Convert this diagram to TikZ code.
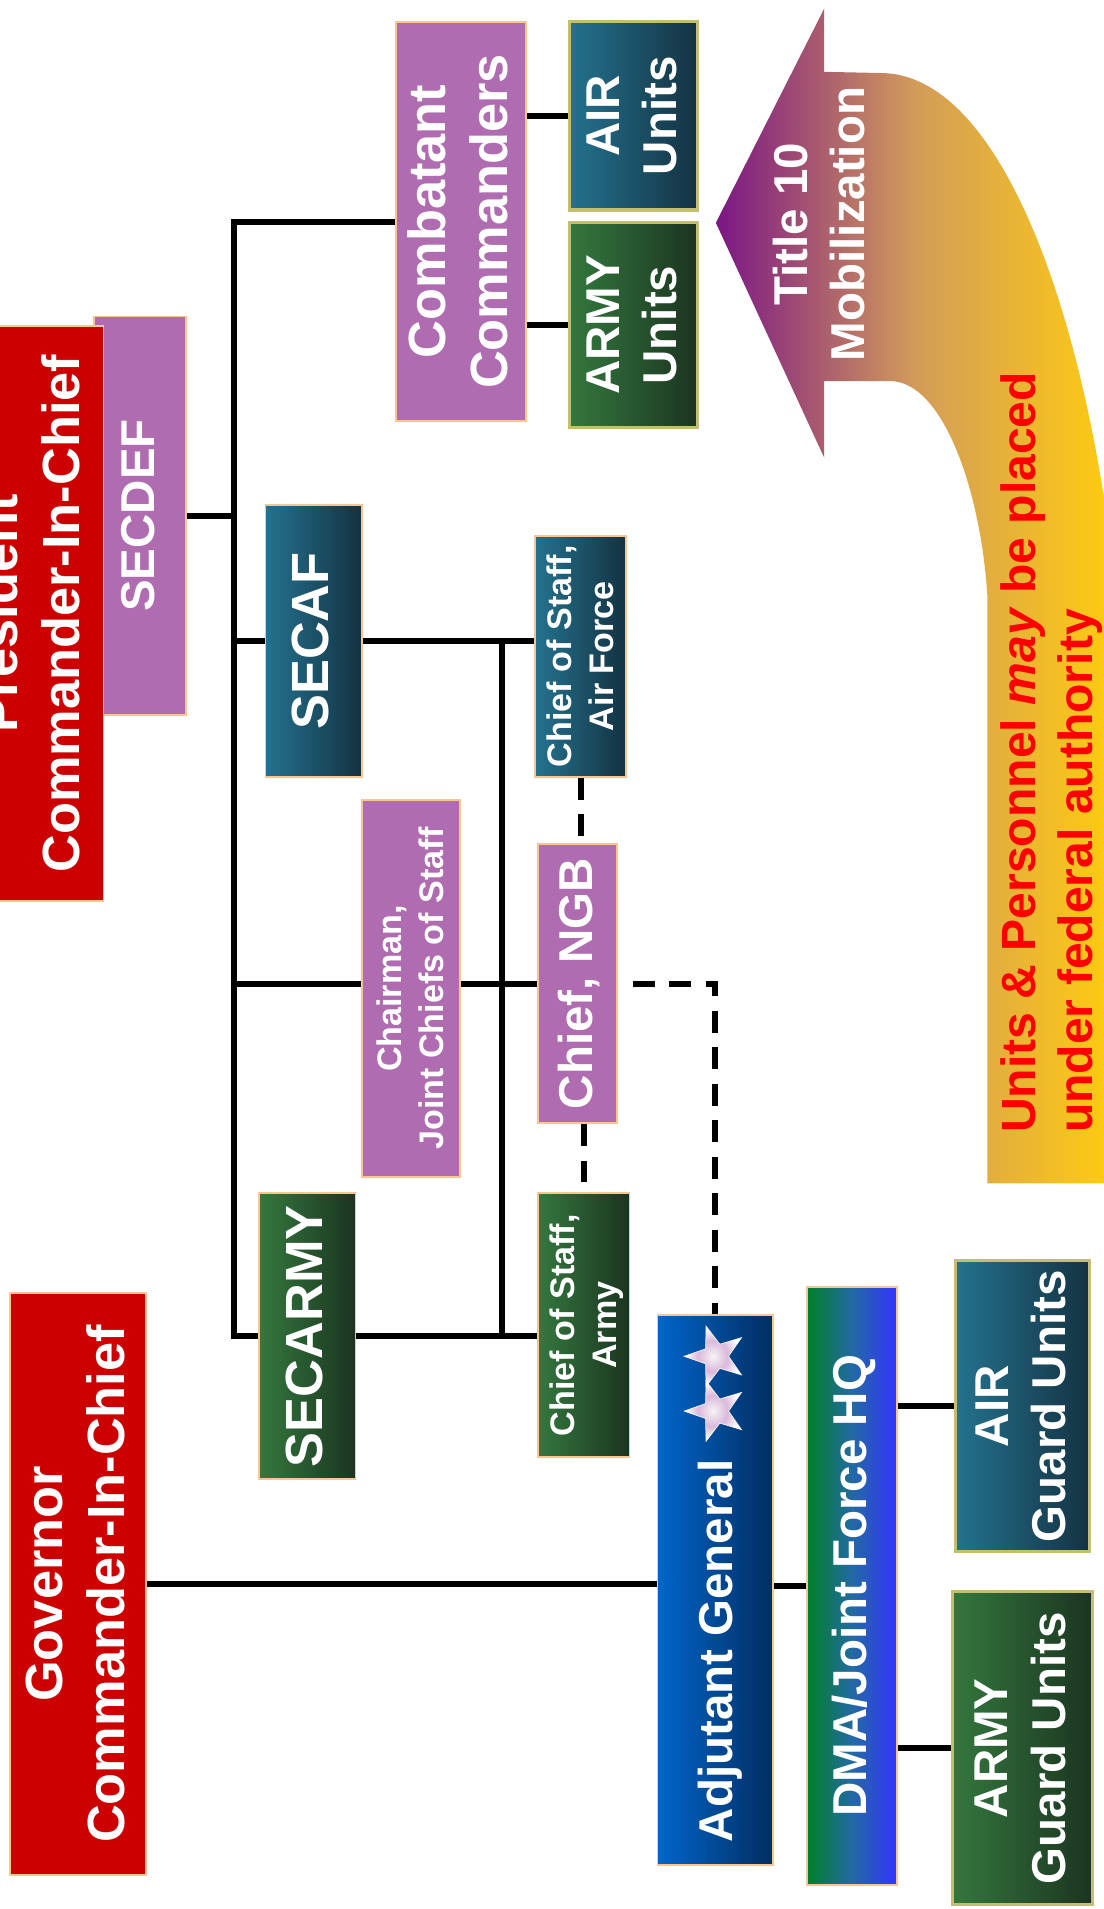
\documentclass[tikz,border=0pt]{standalone}
\usepackage{fontspec}
\setmainfont{Liberation Sans}
\usepackage{graphicx}
\usetikzlibrary{shapes.geometric, backgrounds}

\definecolor{cmdred}{RGB}{204,0,0}
\definecolor{secpurple}{RGB}{176,108,176}
\definecolor{peach}{RGB}{250,197,144}
\definecolor{khaki}{RGB}{196,190,115}
\definecolor{airlight}{RGB}{36,114,143}
\definecolor{airdark}{RGB}{20,50,65}
\definecolor{armylight}{RGB}{52,120,62}
\definecolor{armydark}{RGB}{27,52,32}
\definecolor{agblue}{RGB}{0,102,204}
\definecolor{agnavy}{RGB}{2,45,96}
\definecolor{dmagreen}{RGB}{0,128,40}
\definecolor{dmamid}{RGB}{35,105,165}
\definecolor{dmablue}{RGB}{51,51,255}
\definecolor{mobpurple}{RGB}{123,22,133}
\definecolor{mobtan}{RGB}{210,156,90}
\definecolor{mobyellow}{RGB}{255,204,16}
\definecolor{fedred}{RGB}{255,0,0}

\pgfdeclareradialshading{starglow}{\pgfpoint{0bp}{0bp}}{color(0bp)=(white!92!gray); color(13bp)=(violet!28); color(24bp)=(white); color(50bp)=(white)}

\newcommand{\vtxt}[2][c]{\kern5pt\rotatebox{90}{\begin{tabular}{@{}#1@{}}#2\end{tabular}}}

\begin{document}
\begin{tikzpicture}[x=1pt, y=-1pt,
		box/.style={draw=peach, line width=1.5pt, inner sep=0pt, text=white},
		unitbox/.style={box, draw=khaki, line width=2.5pt},
		redbox/.style={fill=cmdred},
		purplebox/.style={fill=secpurple},
		airshade/.style={left color=airlight, right color=airdark},
		armyshade/.style={left color=armylight, right color=armydark},
		big/.style={font=\bfseries\fontsize{43}{51}\selectfont},
		mid/.style={font=\bfseries\fontsize{39}{47}\selectfont},
		small/.style={font=\bfseries\fontsize{28}{35}\selectfont},
		link/.style={line width=5pt, line cap=rect},
		ngbdash/.style={line width=5pt, dash pattern=on 18pt off 12pt},
		agstar/.style={star, star points=5, star point ratio=2.5, minimum size=52pt, inner sep=0pt, shape border rotate=90, shade, shading=starglow, draw=white!90!gray, line width=0.6pt}]
	\useasboundingbox (0,0) rectangle (906,1568);

	\shade[left color=mobpurple, right color=mobyellow, middle color=mobtan]
		(588,183) -- (677,7) -- (677,59) -- (725,60) .. controls (820,62) and (890,250) .. (915,470)
		-- (915,972) -- (811,972) -- (811,490) .. controls (806,405) and (775,313) .. (731,313)
		-- (677,313) -- (677,376) -- cycle;
	\node[mid, text=white] (mobtxt) at (675,184) {\vtxt{Title 10\\Mobilization}};
	\node[font=\bfseries\fontsize{39.5}{47}\selectfont, text=fedred] (fedtxt) at (862,618) {\vtxt[l]{Units \& Personnel \textit{may} be placed\\under federal authority}};

	\node[box, purplebox, mid, minimum width=76pt, minimum height=327pt] (secdef) at (115,423.5) {\vtxt{SECDEF}};
	\node[box, redbox, big, minimum width=115pt, minimum height=472pt] (pres) at (27.5,504) {\vtxt{President\\Commander-In-Chief}};
	\node[box, purplebox, big, minimum width=107pt, minimum height=328pt] (ccdr) at (378.5,182) {\vtxt{Combatant\\Commanders}};
	\node[unitbox, airshade, mid, minimum width=105pt, minimum height=155pt] (airu) at (520.5,95) {\vtxt{AIR\\Units}};
	\node[unitbox, armyshade, mid, minimum width=105pt, minimum height=168pt] (armyu) at (520.5,267) {\vtxt{ARMY\\Units}};
	\node[box, airshade, big, minimum width=79pt, minimum height=223pt] (secaf) at (257.5,526.5) {\vtxt{SECAF}};
	\node[box, airshade, small, minimum width=70pt, minimum height=198pt] (cosaf) at (477,539) {\vtxt{Chief of Staff,\\Air Force}};
	\node[box, purplebox, small, minimum width=81pt, minimum height=310pt] (chair) at (337.5,812) {\vtxt{Chairman,\\Joint Chiefs of Staff}};
	\node[box, purplebox, mid, minimum width=65pt, minimum height=229pt] (ngb) at (474.5,808) {\vtxt{Chief, NGB}};
	\node[box, armyshade, small, minimum width=71pt, minimum height=217pt] (cosa) at (479.5,1088.5) {\vtxt{Chief of Staff,\\Army}};
	\node[box, armyshade, big, minimum width=79pt, minimum height=235pt] (secarmy) at (252.5,1097.5) {\vtxt{SECARMY}};
	\node[box, redbox, big, minimum width=112pt, minimum height=478pt] (gov) at (64,1301) {\vtxt{Governor\\Commander-In-Chief}};
	\node[box, left color=agblue, right color=agnavy, minimum width=95pt, minimum height=452pt] (adj) at (587.5,1306) {};
	\node[mid, text=white] (agtxt) at (590,1356) {\vtxt{Adjutant General}};
	\node[agstar] (star1) at (588,1114) {};
	\node[agstar] (star2) at (588,1159) {};
	\node[box, left color=dmagreen, right color=dmablue, middle color=dmamid, mid, minimum width=74pt, minimum height=491pt] (dma) at (700,1302.5) {\vtxt{DMA/Joint Force HQ}};
	\node[unitbox, airshade, mid, minimum width=110pt, minimum height=239pt] (airg) at (840,1155) {\vtxt{AIR\\Guard Units}};
	\node[unitbox, armyshade, mid, minimum width=115pt, minimum height=257pt] (armyg) at (839.5,1436) {\vtxt{ARMY\\Guard Units}};

	\coordinate (bus) at (192,0);
	\coordinate (cbus) at (412,0);
	\begin{scope}[on background layer]
		\draw[link] (ccdr.west -| bus) -- (secarmy.west -| bus);
		\draw[link] (secdef.east) -- (secdef.east -| bus);
		\draw[link] (ccdr.west -| bus) -- (ccdr.west);
		\draw[link] (secaf.west -| bus) -- (secaf.west);
		\draw[link] (ngb.west -| bus) -- (ngb.west);
		\draw[link] (secarmy.west -| bus) -- (secarmy.west);
		\draw[link] (secaf.east) -- (secaf.east -| cosaf.west);
		\draw[link] (secarmy.east) -- (secarmy.east -| cosa.west);
		\draw[link] (secaf.east -| cbus) -- (secarmy.east -| cbus);
		\draw[link] (airu.west -| ccdr.east) -- (airu.west);
		\draw[link] (armyu.west -| ccdr.east) -- (armyu.west);
		\draw[link] (gov.east) -- (gov.east -| adj.west);
		\draw[link] (dma.west -| adj.east) -- (dma.west);
		\draw[link] (airg.west -| dma.east) -- (airg.west);
		\draw[link] (armyg.west -| dma.east) -- (armyg.west);
		\draw[ngbdash] (cosaf.south) -- (cosaf.south |- ngb.north);
		\draw[ngbdash] (ngb.south -| cosa.north) -- (cosa.north);
		\draw[ngbdash, dash phase=18pt] (ngb.east) -| (adj.north);
	\end{scope}
\end{tikzpicture}
\end{document}
